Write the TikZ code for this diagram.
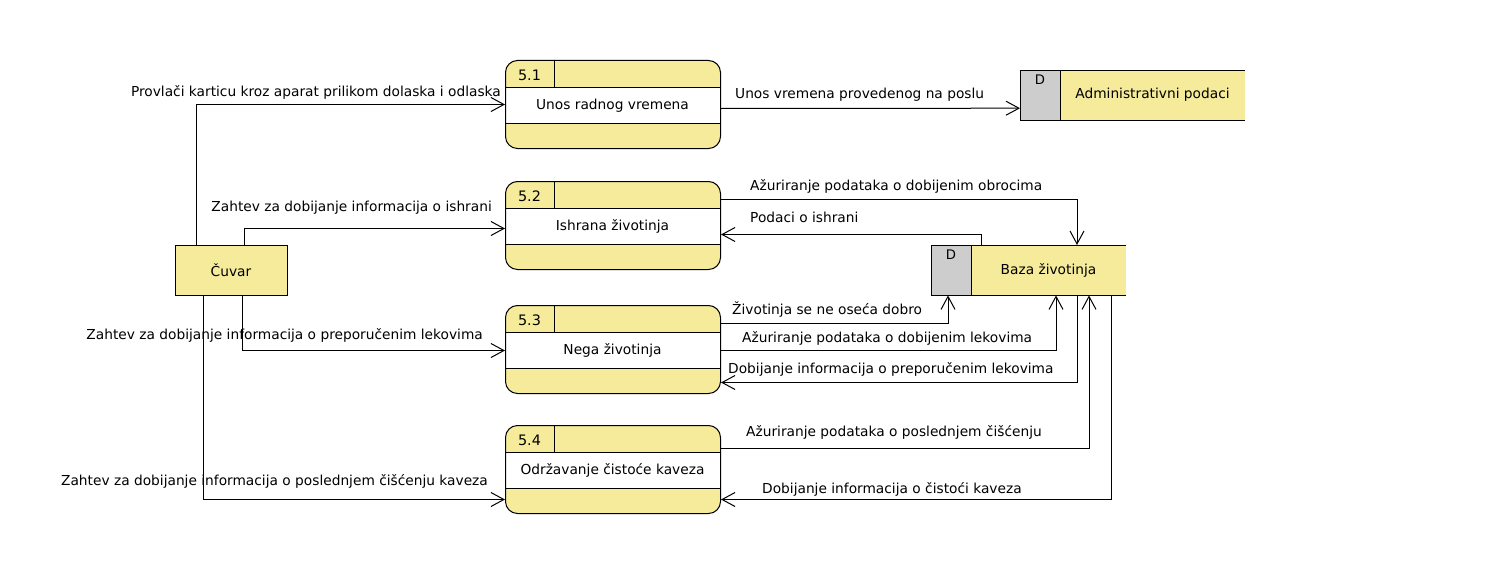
\documentclass[tikz,border=0pt]{standalone}
\usepackage{fontspec}
\setmainfont{DejaVu Sans}
\usetikzlibrary{arrows.meta}
\definecolor{yel}{RGB}{245,235,155}
\definecolor{gry}{RGB}{205,205,205}
\tikzset{
  flow/.style={draw, line width=1pt, -{Straight Barb[length=13pt,width=14pt,line width=1pt]}},
  lbl/.style={inner sep=0pt, font=\fontsize{13.75}{16}\selectfont},
  idtxt/.style={inner sep=0pt, font=\fontsize{14.4}{16}\selectfont, anchor=base},
  dtxt/.style={inner sep=0pt, font=\fontsize{13.2}{14}\selectfont, anchor=base},
}
\newcommand\dfdproc[5]{% name, left, top, id, title
  \begin{scope}[shift={(#2,#3)}]
    \fill[yel, rounded corners=12pt] (0,0) rectangle (215,88);
    \fill[white] (0,27) rectangle (215,63);
    \draw[line width=1pt] (0,27) -- (215,27) (0,63) -- (215,63) (49,0) -- (49,27);
    \node[draw, line width=1pt, rounded corners=12pt, minimum width=215pt, minimum height=88pt,
          inner sep=0pt, anchor=north west] (#1) at (0,0) {};
    \node[idtxt] (#1id) at (24.5,20) {#4};
    \node[lbl, anchor=base] (#1t) at (107.5,49.5) {#5};
  \end{scope}
}
\newcommand\dfdstore[5]{% name, left, top, width, title
  \begin{scope}[shift={(#2,#3)}]
    \fill[yel] (0,0) rectangle (#4,50);
    \fill[gry] (0,0) rectangle (40,50);
    \draw[line width=1pt] (#4,0) -- (0,0) -- (0,50) -- (#4,50) (40,0) -- (40,50);
    \node[inner sep=0pt, minimum width=#4pt, minimum height=50pt, anchor=north west] (#1) at (0,0) {};
    \node[dtxt] (#1d) at (20,14) {D};
    \path (40,25) -- (#4,25) node[midway, lbl, anchor=center] (#1t) {#5};
  \end{scope}
}
\begin{document}
\begin{tikzpicture}[x=1pt,y=-1pt]
\useasboundingbox (0,0) rectangle (1490,578);

% external entity
\node[draw, line width=1pt, fill=yel, minimum width=112pt, minimum height=50pt, inner sep=0pt,
      lbl] (cuvar) at (231,270) {Čuvar};

% processes
\dfdproc{p1}{505}{60}{5.1}{Unos radnog vremena}
\dfdproc{p2}{505}{181}{5.2}{Ishrana životinja}
\dfdproc{p3}{505}{305}{5.3}{Nega životinja}
\dfdproc{p4}{505}{425}{5.4}{Održavanje čistoće kaveza}

% data stores
\dfdstore{admin}{1020}{70}{225}{Administrativni podaci}
\dfdstore{baza}{931}{245}{195}{Baza životinja}

% flows from Čuvar
\draw[flow] (cuvar.north west) ++(22,0) |- (p1.west);
\node[lbl, anchor=base east] (l1) at (501,96) {Provlači karticu kroz aparat prilikom dolaska i odlaska};

\draw[flow] (cuvar.north west) ++(70,0) |- ([yshift=-3pt]p2.west);
\node[lbl, anchor=base east] (l2) at (492,211) {Zahtev za dobijanje informacija o ishrani};

\draw[flow] (cuvar.south west) ++(68,0) |- ([yshift=-1pt]p3.west);
\node[lbl, anchor=base east] (l3) at (483,339) {Zahtev za dobijanje informacija o preporučenim lekovima};

\draw[flow] (cuvar.south west) ++(29,0) |- ([yshift=-30pt]p4.west);
\node[lbl, anchor=base east] (l4) at (488,485) {Zahtev za dobijanje informacija o poslednjem čišćenju kaveza};

% 5.1 -> admin
\draw[flow] ([yshift=-4pt]p1.east) -- ([yshift=-13pt]admin.west);
\node[lbl, anchor=base west] (l5) at (735,98) {Unos vremena provedenog na poslu};

% 5.2 <-> baza
\draw[flow] ([yshift=26pt]p2.east) -| ([xshift=146pt]baza.north west);
\node[lbl, anchor=base west] (l6) at (750,190) {Ažuriranje podataka o dobijenim obrocima};

\draw[flow] ([xshift=50pt]baza.north west) |- ([yshift=-9pt]p2.east);
\node[lbl, anchor=base west] (l7) at (750,222) {Podaci o ishrani};

% 5.3 <-> baza
\draw[flow] ([yshift=26pt]p3.east) -| ([xshift=17pt]baza.south west);
\node[lbl, anchor=base west] (l8) at (732,314) {Životinja se ne oseća dobro};

\draw[flow] ([yshift=-1pt]p3.east) -| ([xshift=125pt]baza.south west);
\node[lbl, anchor=base west] (l9) at (742,342) {Ažuriranje podataka o dobijenim lekovima};

\draw[flow] ([xshift=146pt]baza.south west) |- ([yshift=-33pt]p3.east);
\node[lbl, anchor=base west] (l10) at (728,373) {Dobijanje informacija o preporučenim lekovima};

% 5.4 <-> baza
\draw[flow] ([yshift=21pt]p4.east) -| ([xshift=158pt]baza.south west);
\node[lbl, anchor=base west] (l11) at (746,436) {Ažuriranje podataka o poslednjem čišćenju};

\draw[flow] ([xshift=180pt]baza.south west) |- ([yshift=-30pt]p4.east);
\node[lbl, anchor=base west] (l12) at (762,493) {Dobijanje informacija o čistoći kaveza};
\end{tikzpicture}
\end{document}
